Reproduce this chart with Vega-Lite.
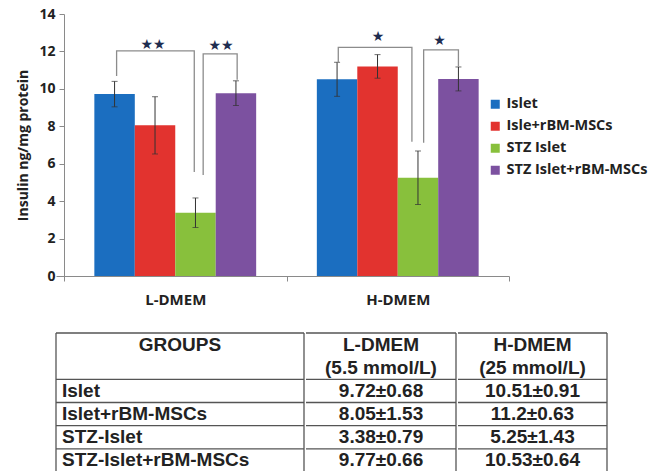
{
  "$schema": "https://vega.github.io/schema/vega-lite/v6.json",
  "padding": {"left": 16, "top": 7, "right": 0, "bottom": 0},
  "background": "white",
  "config": {
    "view": {"stroke": null},
    "font": "Open Sans",
    "axis": {"labelFont": "Open Sans", "labelFontWeight": "bold", "labelColor": "#222", "titleFont": "Open Sans", "titleFontWeight": "bold", "titleColor": "#222", "domainColor": "#8a8a8a", "tickColor": "#8a8a8a", "grid": false}
  },
  "datasets": {
    "bars": [
      {"cond": "L-DMEM", "grp": "Islet", "value": 9.72, "sd": 0.68},
      {"cond": "L-DMEM", "grp": "Isle+rBM-MSCs", "value": 8.05, "sd": 1.53},
      {"cond": "L-DMEM", "grp": "STZ Islet", "value": 3.38, "sd": 0.79},
      {"cond": "L-DMEM", "grp": "STZ Islet+rBM-MSCs", "value": 9.77, "sd": 0.66},
      {"cond": "H-DMEM", "grp": "Islet", "value": 10.51, "sd": 0.91},
      {"cond": "H-DMEM", "grp": "Isle+rBM-MSCs", "value": 11.2, "sd": 0.63},
      {"cond": "H-DMEM", "grp": "STZ Islet", "value": 5.25, "sd": 1.43},
      {"cond": "H-DMEM", "grp": "STZ Islet+rBM-MSCs", "value": 10.53, "sd": 0.64}
    ],
    "brackets": [
      {"cond": "L-DMEM", "id": "L1", "seq": 1, "pos": 0.05, "value": 10.69},
      {"cond": "L-DMEM", "id": "L1", "seq": 2, "pos": 0.05, "value": 12.03},
      {"cond": "L-DMEM", "id": "L1", "seq": 3, "pos": 1.97, "value": 12.03},
      {"cond": "L-DMEM", "id": "L1", "seq": 4, "pos": 1.97, "value": 5.56},
      {"cond": "L-DMEM", "id": "L2", "seq": 1, "pos": 2.19, "value": 5.4},
      {"cond": "L-DMEM", "id": "L2", "seq": 2, "pos": 2.19, "value": 11.87},
      {"cond": "L-DMEM", "id": "L2", "seq": 3, "pos": 3.03, "value": 11.87},
      {"cond": "L-DMEM", "id": "L2", "seq": 4, "pos": 3.03, "value": 10.48},
      {"cond": "H-DMEM", "id": "H1", "seq": 1, "pos": 0.03, "value": 11.38},
      {"cond": "H-DMEM", "id": "H1", "seq": 2, "pos": 0.03, "value": 12.22},
      {"cond": "H-DMEM", "id": "H1", "seq": 3, "pos": 1.85, "value": 12.22},
      {"cond": "H-DMEM", "id": "H1", "seq": 4, "pos": 1.85, "value": 7.18},
      {"cond": "H-DMEM", "id": "H2", "seq": 1, "pos": 2.14, "value": 7.12},
      {"cond": "H-DMEM", "id": "H2", "seq": 2, "pos": 2.14, "value": 12.08},
      {"cond": "H-DMEM", "id": "H2", "seq": 3, "pos": 3.0, "value": 12.08},
      {"cond": "H-DMEM", "id": "H2", "seq": 4, "pos": 3.0, "value": 11.19}
    ],
    "stars": [
      {"cond": "L-DMEM", "pos": 0.95, "value": 12.34, "s": "★★"},
      {"cond": "L-DMEM", "pos": 2.63, "value": 12.29, "s": "★★"},
      {"cond": "H-DMEM", "pos": 1.01, "value": 12.77, "s": "★"},
      {"cond": "H-DMEM", "pos": 2.53, "value": 12.57, "s": "★"}
    ],
    "tbl": [
      {"col": "g", "row": "h1", "text": "GROUPS"},
      {"col": "g", "row": "r1", "text": "Islet"},
      {"col": "g", "row": "r2", "text": "Islet+rBM-MSCs"},
      {"col": "g", "row": "r3", "text": "STZ-Islet"},
      {"col": "g", "row": "r4", "text": "STZ-Islet+rBM-MSCs"},
      {"col": "L", "row": "h1", "text": "L-DMEM"},
      {"col": "L", "row": "h2", "text": "(5.5 mmol/L)"},
      {"col": "L", "row": "r1", "text": "9.72±0.68"},
      {"col": "L", "row": "r2", "text": "8.05±1.53"},
      {"col": "L", "row": "r3", "text": "3.38±0.79"},
      {"col": "L", "row": "r4", "text": "9.77±0.66"},
      {"col": "H", "row": "h1", "text": "H-DMEM"},
      {"col": "H", "row": "h2", "text": "(25 mmol/L)"},
      {"col": "H", "row": "r1", "text": "10.51±0.91"},
      {"col": "H", "row": "r2", "text": "11.2±0.63"},
      {"col": "H", "row": "r3", "text": "5.25±1.43"},
      {"col": "H", "row": "r4", "text": "10.53±0.64"}
    ]
  },
  "vconcat": [
    {
      "width": 453,
      "height": 262,
      "encoding": {
        "x": {"field": "cond", "type": "nominal", "sort": ["L-DMEM", "H-DMEM"], "scale": {"paddingInner": 0, "paddingOuter": 0.018, "align": 1}, "axis": {"title": null, "labelAngle": 0, "labelFontSize": 15, "tickBand": "extent", "tickSize": 5, "labelPadding": 11}},
        "y": {"field": "value", "type": "quantitative", "title": "Insulin ng/mg protein", "scale": {"domain": [0, 14], "nice": false}, "axis": {"values": [0, 2, 4, 6, 8, 10, 12, 14], "offset": -8, "tickSize": 5, "labelPadding": 4, "titlePadding": 8, "labelFontSize": 14, "titleFontSize": 14, "labelOverlap": false}}
      },
      "layer": [
        {
          "data": {"name": "bars"},
          "mark": {"type": "bar"},
          "encoding": {
            "xOffset": {"field": "grp", "type": "nominal", "sort": ["Islet", "Isle+rBM-MSCs", "STZ Islet", "STZ Islet+rBM-MSCs"], "scale": {"paddingInner": 0, "paddingOuter": 0.75}},
            "color": {"field": "grp", "type": "nominal", "sort": ["Islet", "Isle+rBM-MSCs", "STZ Islet", "STZ Islet+rBM-MSCs"], "scale": {"domain": ["Islet", "Isle+rBM-MSCs", "STZ Islet", "STZ Islet+rBM-MSCs"], "range": ["#1b6ec0", "#e2332f", "#88c03c", "#7c51a0"]}, "legend": {"title": null, "orient": "none", "legendX": 432, "legendY": 83, "symbolType": "square", "symbolSize": 81, "symbolStrokeWidth": 0, "labelFont": "Open Sans", "labelFontWeight": "bold", "labelFontSize": 14.5, "labelColor": "#222", "rowPadding": 7, "labelOffset": 4, "padding": 0}}
          }
        },
        {
          "data": {"name": "bars"},
          "mark": {"type": "errorbar", "ticks": {"size": 6, "color": "#333"}, "color": "#333", "thickness": 1},
          "encoding": {
            "xOffset": {"field": "grp", "type": "nominal", "sort": ["Islet", "Isle+rBM-MSCs", "STZ Islet", "STZ Islet+rBM-MSCs"], "scale": {"paddingInner": 0, "paddingOuter": 0.75}},
            "yError": {"field": "sd"}
          }
        },
        {
          "data": {"name": "brackets"},
          "mark": {"type": "line", "color": "#8c8c8c", "strokeWidth": 1.3},
          "encoding": {
            "xOffset": {"field": "pos", "type": "quantitative", "scale": {"domain": [-1.25, 4.25], "nice": false, "zero": false}},
            "detail": {"field": "id", "type": "nominal"},
            "order": {"field": "seq", "type": "quantitative"}
          }
        },
        {
          "data": {"name": "stars"},
          "mark": {"type": "text", "font": "DejaVu Sans", "fontSize": 14, "color": "#1f2d50", "baseline": "middle"},
          "encoding": {
            "xOffset": {"field": "pos", "type": "quantitative", "scale": {"domain": [-1.25, 4.25], "nice": false, "zero": false}},
            "text": {"field": "s", "type": "nominal"}
          }
        }
      ],
      "resolve": {"scale": {"xOffset": "independent"}}
    },
    {
      "spacing": 0,
      "hconcat": [
        {
          "width": 248, "height": 139,
          "data": {"name": "tbl"},
          "transform": [{"filter": "datum.col === 'g'"}],
          "encoding": {"y": {"field": "row", "type": "nominal", "scale": {"domain": ["h1", "h2", "r1", "r2", "r3", "r4"], "paddingInner": 0, "paddingOuter": 0}, "axis": null}},
          "layer": [
            {"transform": [{"filter": "datum.row !== 'h2'"}], "mark": {"type": "rule", "color": "#555", "strokeWidth": 1.3}, "encoding": {"y": {"field": "row", "type": "nominal", "bandPosition": 0}}},
            {"transform": [{"filter": "datum.row === 'h1'"}], "mark": {"type": "rule", "color": "#555", "strokeWidth": 1.3}, "encoding": {"y": null, "x": {"field": "col", "type": "nominal", "bandPosition": 0, "axis": null, "scale": {"type": "band", "paddingInner": 0, "paddingOuter": 0}}}},
            {"transform": [{"filter": "datum.row === 'h1'"}], "mark": {"type": "rule", "color": "#555", "strokeWidth": 1.3}, "encoding": {"y": null, "x": {"field": "col", "type": "nominal", "bandPosition": 1, "axis": null}}},
            {"transform": [{"filter": "datum.row === 'h1'"}], "mark": {"type": "text", "font": "Liberation Sans", "fontWeight": "bold", "fontSize": 19, "color": "#222"}, "encoding": {"text": {"field": "text", "type": "nominal"}}},
            {"transform": [{"filter": "datum.row !== 'h1'"}], "mark": {"type": "text", "align": "left", "dx": 6, "font": "Liberation Sans", "fontWeight": "bold", "fontSize": 19, "color": "#222"}, "encoding": {"x": {"field": "col", "type": "nominal", "bandPosition": 0, "axis": null}, "text": {"field": "text", "type": "nominal"}}}
          ]
        },
        {
          "width": 150, "height": 139,
          "data": {"name": "tbl"},
          "transform": [{"filter": "datum.col === 'L'"}],
          "encoding": {"y": {"field": "row", "type": "nominal", "scale": {"domain": ["h1", "h2", "r1", "r2", "r3", "r4"], "paddingInner": 0, "paddingOuter": 0}, "axis": null}},
          "layer": [
            {"transform": [{"filter": "datum.row !== 'h2'"}], "mark": {"type": "rule", "color": "#555", "strokeWidth": 1.3}, "encoding": {"y": {"field": "row", "type": "nominal", "bandPosition": 0}}},
            {"transform": [{"filter": "datum.row === 'h1'"}], "mark": {"type": "rule", "color": "#555", "strokeWidth": 1.3}, "encoding": {"y": null, "x": {"field": "col", "type": "nominal", "bandPosition": 1, "axis": null, "scale": {"type": "band", "paddingInner": 0, "paddingOuter": 0}}}},
            {"mark": {"type": "text", "font": "Liberation Sans", "fontWeight": "bold", "fontSize": 19, "color": "#222"}, "encoding": {"text": {"field": "text", "type": "nominal"}}}
          ]
        },
        {
          "width": 149, "height": 139,
          "data": {"name": "tbl"},
          "transform": [{"filter": "datum.col === 'H'"}],
          "encoding": {"y": {"field": "row", "type": "nominal", "scale": {"domain": ["h1", "h2", "r1", "r2", "r3", "r4"], "paddingInner": 0, "paddingOuter": 0}, "axis": null}},
          "layer": [
            {"transform": [{"filter": "datum.row !== 'h2'"}], "mark": {"type": "rule", "color": "#555", "strokeWidth": 1.3}, "encoding": {"y": {"field": "row", "type": "nominal", "bandPosition": 0}}},
            {"transform": [{"filter": "datum.row === 'h1'"}], "mark": {"type": "rule", "color": "#555", "strokeWidth": 1.3}, "encoding": {"y": null, "x": {"field": "col", "type": "nominal", "bandPosition": 1, "axis": null, "scale": {"type": "band", "paddingInner": 0, "paddingOuter": 0}}}},
            {"mark": {"type": "text", "font": "Liberation Sans", "fontWeight": "bold", "fontSize": 19, "color": "#222"}, "encoding": {"text": {"field": "text", "type": "nominal"}}}
          ]
        }
      ]
    }
  ],
  "spacing": 25,
  "resolve": {"legend": {"color": "independent"}}
}
